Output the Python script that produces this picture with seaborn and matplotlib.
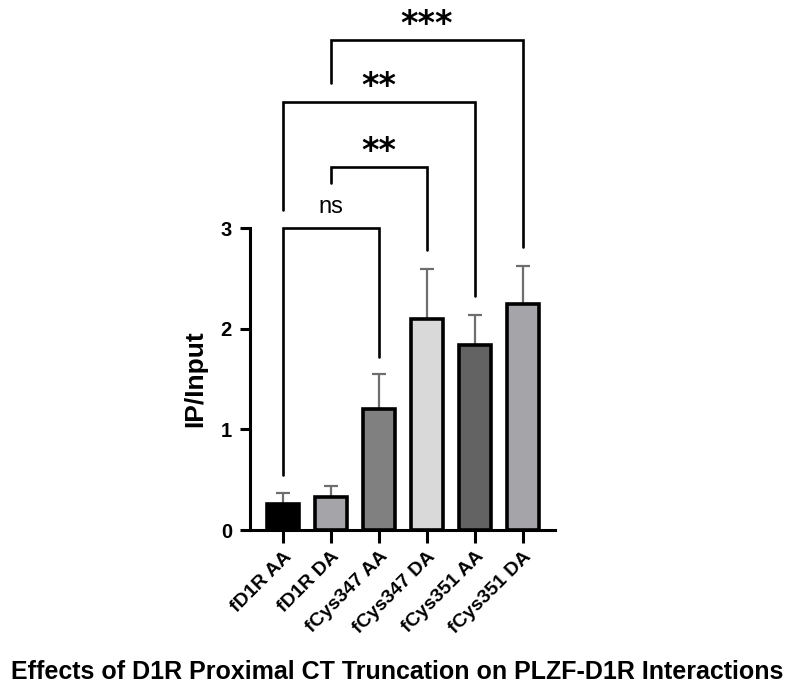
import matplotlib
matplotlib.use("Agg")
import matplotlib.pyplot as plt
import seaborn as sns
import pandas as pd
import numpy as np

categories = ["fD1R AA", "fD1R DA", "fCys347 AA", "fCys347 DA", "fCys351 AA", "fCys351 DA"]
means = [0.26, 0.33, 1.20, 2.10, 1.84, 2.25]
sem = [0.11, 0.11, 0.35, 0.49, 0.30, 0.37]
bar_colors = ["#000000", "#a3a3aa", "#808080", "#d9d9d9", "#636363", "#a3a3aa"]

# comparisons: (left index, right index, bracket height, left leg end, right leg end, label)
comparisons = [
    (0, 2, 3.00, 0.55, 1.72, "ns"),
    (1, 3, 3.61, 3.45, 2.78, "**"),
    (0, 4, 4.25, 3.18, 2.32, "**"),
    (1, 5, 4.87, 4.44, 2.81, "***"),
]

sns.set_theme(style="ticks")
plt.rcParams["font.family"] = ["Liberation Sans", "DejaVu Sans"]
plt.rcParams["text.color"] = "black"
plt.rcParams["axes.labelcolor"] = "black"
plt.rcParams["xtick.color"] = "black"
plt.rcParams["ytick.color"] = "black"

fig = plt.figure(figsize=(7.95, 6.91), dpi=100)
ax = fig.add_axes([250/795, 1-530/691, 305/795, 302/691])

df = pd.DataFrame({"cat": categories, "val": means})
sns.barplot(data=df, x="cat", y="val", hue="cat", palette=bar_colors, legend=False,
            width=0.67, edgecolor="black", linewidth=2.6, ax=ax, zorder=3)

x = np.arange(len(categories))
ax.errorbar(x, means, yerr=[np.zeros(len(sem)), sem], fmt="none", ecolor="#6e6e6e",
            elinewidth=1.6, capsize=5, capthick=1.6, zorder=2)

ax.set_xlim(-0.69, 5.67)
ax.set_ylim(0, 3)
ax.set_yticks([0, 1, 2, 3])
ax.set_yticklabels(["0", "1", "2", "3"], fontsize=14.5, fontweight="bold")
ax.set_xticks(x)
ax.set_xticklabels(categories, rotation=45, ha="right", rotation_mode="anchor",
                   fontsize=14, fontweight="bold")
ax.set_xlabel("")
ax.set_ylabel("IP/Input", fontsize=19, fontweight="bold", labelpad=10)
for s in ["top", "right"]:
    ax.spines[s].set_visible(False)
for s in ["left", "bottom"]:
    ax.spines[s].set_linewidth(2.2)
    ax.spines[s].set_color("black")
ax.tick_params(axis="y", length=7, width=2.2, pad=6)
ax.tick_params(axis="x", length=9, width=2.2, pad=4)

for li, ri, h, ll, rl, lab in comparisons:
    ax.plot([li, li, ri, ri], [ll, h, h, rl], color="black", lw=1.9,
            clip_on=False, zorder=4, solid_joinstyle="miter")
    if lab == "ns":
        ax.text((li + ri) / 2, h + 0.1, lab, ha="center", va="bottom",
                fontsize=17, clip_on=False)
    else:
        ax.text((li + ri) / 2, h + 0.06, lab, ha="center", va="baseline",
                fontsize=24, fontweight="bold", family="DejaVu Sans", clip_on=False)

fig.text(0.5, 1 - 672/691, "Effects of D1R Proximal CT Truncation on PLZF-D1R Interactions",
         ha="center", va="center", fontsize=18, fontweight="bold")

fig.savefig("out.png", dpi=100)
